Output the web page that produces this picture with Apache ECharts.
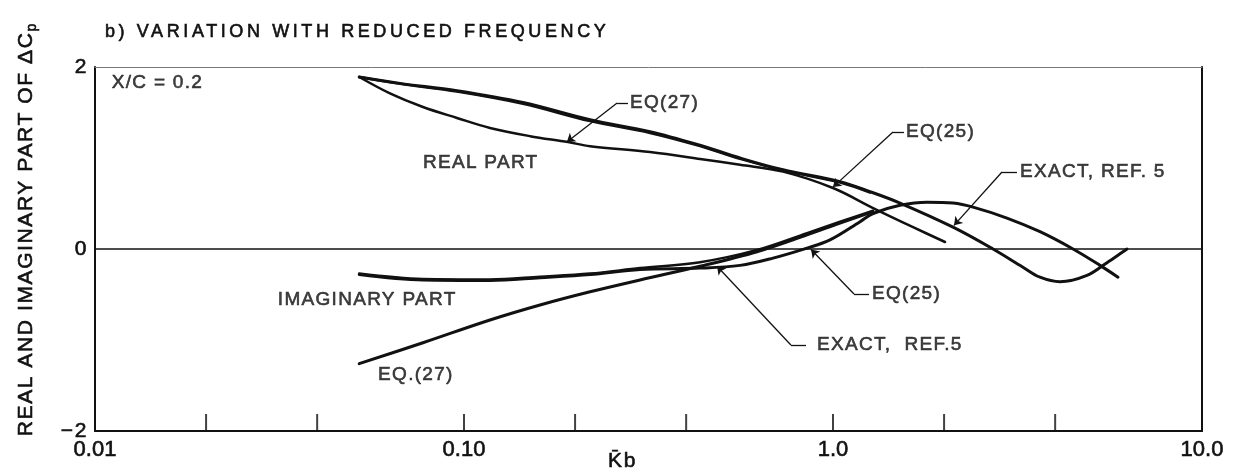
<!DOCTYPE html>
<html>
<head>
<meta charset="utf-8">
<script src="https://cdn.jsdelivr.net/npm/echarts@6/dist/echarts.min.js"></script>
<style>
  html, body { margin: 0; padding: 0; background: #fff; }
  #chart { width: 1233px; height: 472px; }
</style>
</head>
<body>
<div id="chart"></div>
<script>
// ---- axis labels and tick marks -------------------------------------------
const kDecadeLabels = ['0.01', '0.10', '1.0', '10.0'];
const kTickMarks = [0.02, 0.04, 0.1, 0.2, 0.4, 1, 2, 4];

// ---- real part of ΔCp versus reduced frequency ----------------------------
const realExactK = [0.052, 0.0671, 0.0957, 0.1445, 0.2196, 0.3192, 0.4362, 0.5598, 0.732, 1.045, 1.26, 1.519, 2.115, 2.714, 3.272, 3.639, 4.123, 4.879, 5.527, 6.108, 6.262];
const realExactV = [1.89, 1.82, 1.74, 1.61, 1.42, 1.29, 1.14, 1.00, 0.87, 0.74, 0.63, 0.505, 0.24, 0.0, -0.20, -0.31, -0.36, -0.29, -0.15, -0.03, 0.0];

const realEq25K = [0.052, 0.0671, 0.0957, 0.1445, 0.2196, 0.3192, 0.4362, 0.5598, 0.732, 1.045, 1.26];
const realEq25V = [1.89, 1.815, 1.73, 1.595, 1.405, 1.275, 1.13, 0.99, 0.865, 0.73, 0.62];

const realEq27K = [0.052, 0.063, 0.0774, 0.0957, 0.1176, 0.151, 0.1913, 0.2196, 0.3192, 0.4362, 0.5598, 0.732, 1.0, 1.284, 1.648, 2.012];
const realEq27V = [1.89, 1.71, 1.56, 1.44, 1.33, 1.24, 1.175, 1.13, 1.065, 0.99, 0.925, 0.85, 0.67, 0.45, 0.24, 0.077];

// ---- imaginary part of ΔCp -----------------------------------------------
const imagExactK = [0.052, 0.0774, 0.1176, 0.1607, 0.2196, 0.2999, 0.4362, 0.5598, 0.6877, 0.8503, 0.9815, 1.184, 1.284, 1.519, 1.798, 2.115, 2.396, 2.961, 3.639, 4.472, 5.291, 5.921];
const imagExactV = [-0.28, -0.34, -0.345, -0.315, -0.28, -0.225, -0.21, -0.18, -0.10, 0.01, 0.10, 0.30, 0.39, 0.48, 0.515, 0.505, 0.46, 0.34, 0.19, 0.0, -0.18, -0.31];

const imagEq25K = [0.052, 0.0774, 0.1176, 0.1607, 0.2196, 0.2999, 0.4362, 0.6223, 0.8503, 1.045, 1.284];
const imagEq25V = [-0.27, -0.33, -0.335, -0.305, -0.27, -0.21, -0.145, -0.01, 0.175, 0.30, 0.42];

const imagEq27K = [0.052, 0.0774, 0.1176, 0.1607, 0.2196, 0.2999, 0.4362, 0.6223, 0.8503, 1.045, 1.284];
const imagEq27V = [-1.26, -1.03, -0.78, -0.615, -0.47, -0.34, -0.19, -0.03, 0.155, 0.285, 0.41];

// ---- captions (left edge of text, in data units) --------------------------
const noteTexts = ['X/C = 0.2', 'REAL PART', 'IMAGINARY PART', 'EQ.(27)', 'EQ(27)', 'EQ(25)', 'EXACT, REF. 5', 'EQ(25)', 'EXACT,  REF.5'];
const noteAt = [[0.0111, 1.824], [0.0774, 0.945], [0.0313, -0.56], [0.0585, -1.385], [0.2818, 1.604], [1.577, 1.286], [3.212, 0.846], [1.276, -0.495], [0.905, -1.055]];

// leader lines: corner of the short stub, end of the stub, arrow tip
const leaderCorner = [[0.260, 1.604], [1.454, 1.286], [2.871, 0.846], [1.140, -0.495], [0.769, -1.055]];
const leaderStubEnd = [[0.2782, 1.604], [1.557, 1.286], [3.152, 0.846], [1.252, -0.495], [0.845, -1.055]];
const leaderTip = [[0.190, 1.176], [1.0, 0.68], [2.128, 0.26], [0.872, -0.005], [0.485, -0.19]];

// ---- lettering ------------------------------------------------------------
const INK = '#111';
const FONT = "'Liberation Sans', Arial, sans-serif";
const NARROW = "'Liberation Sans Narrow', 'Liberation Sans', sans-serif";
// a thin outline in the ink colour gives the lettering its heavier stroke
const HEAVY = { textBorderColor: INK, textBorderWidth: 0.6 };

// The stencil lettering is loosely tracked: give canvas text extra spacing,
// keyed by font size (narrow tick numerals stay tight).
const TRACKING = { 18: 3.6, 19: 1.3, 21: 1.6 };
function trackingFor(font) {
  if (/Narrow/.test(font || '')) return '0px';
  const m = /(\d+(?:\.\d+)?)px/.exec(font || '');
  const px = m ? Math.round(parseFloat(m[1])) : 0;
  return (TRACKING[px] || 0) + 'px';
}
['fillText', 'strokeText', 'measureText'].forEach(function (fn) {
  const proto = CanvasRenderingContext2D.prototype;
  const orig = proto[fn];
  proto[fn] = function () {
    if ('letterSpacing' in this) this.letterSpacing = trackingFor(this.font);
    return orig.apply(this, arguments);
  };
});

function zip(ks, vs) { return ks.map(function (k, i) { return [k, vs[i]]; }); }

function curve(name, ks, vs, width) {
  return {
    name: name, type: 'line', data: zip(ks, vs),
    showSymbol: false, smooth: 0.35, silent: true,
    lineStyle: { color: INK, width: width, cap: 'round', join: 'round' },
    z: 3
  };
}

const leaderLines = [];
leaderCorner.forEach(function (c, i) {
  leaderLines.push([{ coord: c, symbol: 'none' }, { coord: leaderStubEnd[i], symbol: 'none' }]);
  leaderLines.push([{ coord: c, symbol: 'none' }, { coord: leaderTip[i], symbol: 'arrow' }]);
});

const chart = echarts.init(document.getElementById('chart'), null, { renderer: 'canvas' });

const realExact = curve('Real, exact (Ref. 5)', realExactK, realExactV, 3);
realExact.markLine = {
  silent: true, symbol: ['none', 'none'], label: { show: false },
  lineStyle: { color: INK, width: 1.5, type: 'solid' },
  data: [{ yAxis: 0 }]
};

chart.setOption({
  animation: false,
  backgroundColor: '#fff',
  title: {
    text: 'b) VARIATION WITH REDUCED FREQUENCY',
    left: 100, top: 16,
    textStyle: Object.assign({ fontFamily: FONT, fontSize: 18, fontWeight: 'normal', color: INK }, HEAVY)
  },
  grid: { left: 95, right: 31, top: 67, bottom: 41, containLabel: false, outerBoundsMode: 'none' },
  xAxis: [{
    type: 'log', logBase: 10, min: 0.01, max: 10, position: 'bottom',
    axisLine: { show: true, onZero: false, lineStyle: { color: INK, width: 2 } },
    axisTick: { show: false },
    splitLine: { show: false },
    axisLabel: Object.assign({
      showMinLabel: true, showMaxLabel: true, margin: 8,
      fontFamily: NARROW, fontSize: 22, color: INK,
      formatter: function (v) { return kDecadeLabels[Math.round(Math.log10(v)) + 2]; }
    }, HEAVY),
    name: 'K\u0304b', nameLocation: 'middle', nameGap: 19, nameMoveOverlap: false,
    nameTextStyle: Object.assign({ fontFamily: FONT, fontSize: 21, color: INK, padding: [0, 52, 0, 0] }, HEAVY)
  }, {
    type: 'log', logBase: 10, min: 0.01, max: 10, position: 'top',
    axisLine: { show: true, onZero: false, lineStyle: { color: '#777', width: 1 } },
    axisTick: { show: false }, axisLabel: { show: false }, splitLine: { show: false }
  }],
  yAxis: [{
    type: 'value', min: -2, max: 2, interval: 2, position: 'left',
    axisLine: { show: true, onZero: false, lineStyle: { color: INK, width: 2 } },
    axisTick: { show: false },
    splitLine: { show: false },
    axisLabel: Object.assign({
      margin: 7, fontFamily: FONT, fontSize: 21, color: INK,
      formatter: function (v) { return v < 0 ? '\u2212' + (-v) : String(v); }
    }, HEAVY),
    name: '{m|REAL AND IMAGINARY PART OF \u0394C}{s|p}',
    nameLocation: 'middle', nameRotate: 90, nameGap: 56, nameMoveOverlap: false,
    nameTextStyle: {
      padding: [0, 0, 0, 38],
      rich: {
        m: Object.assign({ fontFamily: FONT, fontSize: 21, color: INK, lineHeight: 26 }, HEAVY),
        s: Object.assign({ fontFamily: FONT, fontSize: 14, color: INK, lineHeight: 12, verticalAlign: 'bottom' }, HEAVY)
      }
    }
  }, {
    type: 'value', min: -2, max: 2, interval: 2, position: 'right',
    axisLine: { show: true, onZero: false, lineStyle: { color: INK, width: 2 } },
    axisTick: { show: false }, axisLabel: { show: false }, splitLine: { show: false }
  }],
  series: [
    realExact,
    curve('Real, EQ(25)', realEq25K, realEq25V, 2.5),
    curve('Real, EQ(27)', realEq27K, realEq27V, 2.5),
    curve('Imaginary, exact (Ref. 5)', imagExactK, imagExactV, 3),
    curve('Imaginary, EQ(25)', imagEq25K, imagEq25V, 2.5),
    curve('Imaginary, EQ(27)', imagEq27K, imagEq27V, 3),
    {
      name: 'ticks', type: 'scatter', silent: true, clip: false, z: 4,
      data: kTickMarks.map(function (k) { return [k, -2]; }),
      symbol: 'rect', symbolSize: [2, 17], symbolOffset: [0, '-50%'],
      itemStyle: { color: INK }
    },
    {
      name: 'notes', type: 'scatter', silent: true, clip: false, z: 6,
      symbolSize: 0,
      data: noteTexts.map(function (t, i) { return { name: t, value: noteAt[i] }; }),
      label: Object.assign({
        show: true, position: 'right', distance: 0, formatter: '{b}',
        fontFamily: FONT, fontSize: 19, color: INK
      }, HEAVY),
      markLine: {
        silent: true, animation: false, symbolSize: 8,
        label: { show: false },
        lineStyle: { color: INK, width: 1.3, type: 'solid' },
        data: leaderLines
      }
    }
  ]
});
</script>
</body>
</html>
